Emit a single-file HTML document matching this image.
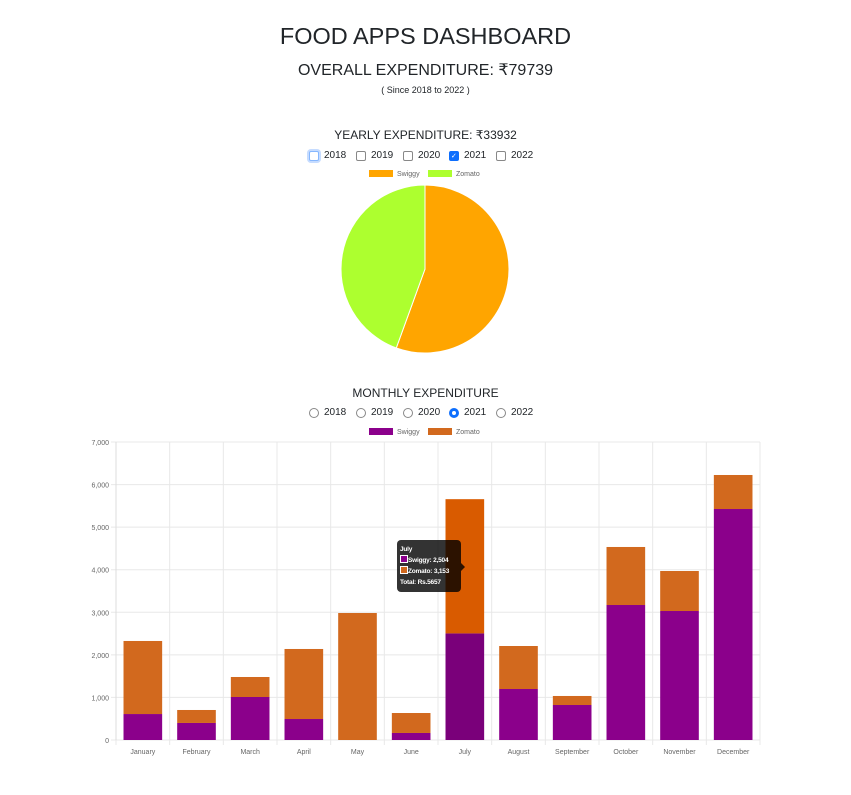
<!DOCTYPE html>
<html><head><meta charset="utf-8">
<style>
body{margin:0;width:851px;height:795px;background:#fff;font-family:"Liberation Sans","DejaVu Sans",sans-serif;color:#212529;position:relative;overflow:hidden}
.c{position:absolute;left:0;width:851px;text-align:center}
.opt{position:absolute;font-size:10px;display:flex;align-items:center;gap:5px}
.box{width:10px;height:10px;border:1px solid #888;border-radius:2px;background:#fff;box-sizing:border-box}
.rad{width:10px;height:10px;border:1px solid #888;border-radius:50%;background:#fff;box-sizing:border-box}
</style></head><body>
<div class="c" style="top:23px;font-size:23.5px">FOOD APPS DASHBOARD</div>
<div class="c" style="top:60px;font-size:16px">OVERALL EXPENDITURE: ₹79739</div>
<div class="c" style="top:85px;font-size:9px">( Since 2018 to 2022 )</div>
<div class="c" style="top:128px;font-size:12px">YEARLY EXPENDITURE: ₹33932</div>
<div class="c" style="top:386px;font-size:12px">MONTHLY EXPENDITURE</div>
<svg id="svg" width="851" height="795" style="position:absolute;left:0;top:0"></svg>
<div id="tip" style="position:absolute;left:397px;top:540px;width:64px;height:52px;background:rgba(0,0,0,0.8);border-radius:4px;color:#fff;font-size:6.5px;font-weight:bold;padding:4px 3px;box-sizing:border-box;line-height:11px;white-space:nowrap;letter-spacing:-0.2px">
<div>July</div>
<div><span style="display:inline-block;width:6px;height:6px;background:#8b008b;border:1px solid #fff;vertical-align:-1px"></span>Swiggy: 2,504</div>
<div><span style="display:inline-block;width:6px;height:6px;background:#d2691e;border:1px solid #fff;vertical-align:-1px"></span>Zomato: 3,153</div>
<div>Total: Rs.5657</div>
</div>
<script>
const years=["2018","2019","2020","2021","2022"];
const pieLabels=["Swiggy","Zomato"];
const pieValues=[18850,15082];
const months=["January","February","March","April","May","June","July","August","September","October","November","December"];
const swiggy=[610,400,1010,493,0,165,2504,1198,822,3171,3030,5426];
const zomato=[1716,305,470,1645,2983,469,3153,1010,212,1363,940,799];
const yTicks=[0,1000,2000,3000,4000,5000,6000,7000];

const NS="http://www.w3.org/2000/svg";
const svg=document.getElementById('svg');
function mk(t,a,p){const e=document.createElementNS(NS,t);for(const k in a)e.setAttribute(k,a[k]);(p||svg).appendChild(e);return e;}

const xs=[309,356,403,449,496];
years.forEach((y,i)=>{
 for(const top of [150,407]){
  const d=document.createElement('div');d.className='opt';d.style.left=xs[i]+'px';d.style.top=top+'px';
  
  
  const b=document.createElement('span');
  if(top==150){b.className='box';if(y=="2021"){b.style.background='#0d6efd';b.style.borderColor='#0d6efd';b.innerHTML='<span style="color:#fff;font-size:7px;position:relative;top:-2px;left:1px">✓</span>';}
   if(y=="2018"){b.style.borderColor='#86b7fe';b.style.boxShadow='0 0 0 2px #c6dcff';}}
  else{b.className='rad';if(y=="2021"){b.style.border='3px solid #0d6efd';}}
  d.appendChild(b);d.appendChild(document.createTextNode(y));document.body.appendChild(d);
 }
});

function legend(y,c1,c2,x0){
 [[c1,"Swiggy",x0],[c2,"Zomato",x0+59]].forEach(([c,l,x])=>{
  const r=mk('rect',{x:x,y:y-3,width:24,height:7,fill:c});
  
  
  const t=mk('text',{x:x+28,y:y+3,'font-size':7,fill:'#666'});t.textContent=l;
  
  
 });
}
legend(173,'#ffa500','#adff2f',369);
legend(431,'#8b008b','#d2691e',369);

const cx=425,cy=269,R=84;
const tot=pieValues.reduce((a,b)=>a+b,0);
const pc=['#ffa500','#adff2f'];
let a0=0;
pieValues.forEach((v,i)=>{
 const a1=a0+v/tot*2*Math.PI;
 const x0=cx+R*Math.sin(a0),y0=cy-R*Math.cos(a0),x1=cx+R*Math.sin(a1),y1=cy-R*Math.cos(a1);
 const p=mk('path',{d:`M${cx},${cy}L${x0},${y0}A${R},${R} 0 ${a1-a0>Math.PI?1:0} 1 ${x1},${y1}Z`,fill:pc[i],stroke:'#fff','stroke-width':1});
 
 
 a0=a1;
});

const L=116,Rt=760,T=442,B=740,yMax=7000;
const yS=v=>B-v/yMax*(B-T);
const cw=(Rt-L)/months.length;
yTicks.forEach(t=>{
 mk('line',{x1:L-5,x2:Rt,y1:yS(t),y2:yS(t),stroke:'#e8e8e8','stroke-width':1});
 const tx=mk('text',{x:L-7,y:yS(t)+3,'font-size':7,fill:'#666','text-anchor':'end'});tx.textContent=t.toLocaleString('en-US');
 
 
});
for(let i=0;i<=months.length;i++)mk('line',{x1:L+i*cw,x2:L+i*cw,y1:T,y2:B+5,stroke:'#e8e8e8','stroke-width':1});
mk('line',{x1:L,x2:L,y1:T,y2:B,stroke:'#ddd'});
months.forEach((m,i)=>{
 const x=L+i*cw+cw*0.14,w=cw*0.72,hl=(m==="July");
 const s=mk('rect',{x:x,y:yS(swiggy[i]),width:w,height:B-yS(swiggy[i]),fill:hl?'#7a007a':'#8b008b'});
 
 
 const z=mk('rect',{x:x,y:yS(swiggy[i]+zomato[i]),width:w,height:yS(swiggy[i])-yS(swiggy[i]+zomato[i]),fill:hl?'#d95b00':'#d2691e'});
 
 
 const t=mk('text',{x:L+i*cw+cw/2,y:B+14,'font-size':7,fill:'#666','text-anchor':'middle'});t.textContent=m;
 
 
});
mk('polygon',{points:'461,563 465,567 461,571',fill:'rgba(0,0,0,0.8)'});
</script>
</body></html>
